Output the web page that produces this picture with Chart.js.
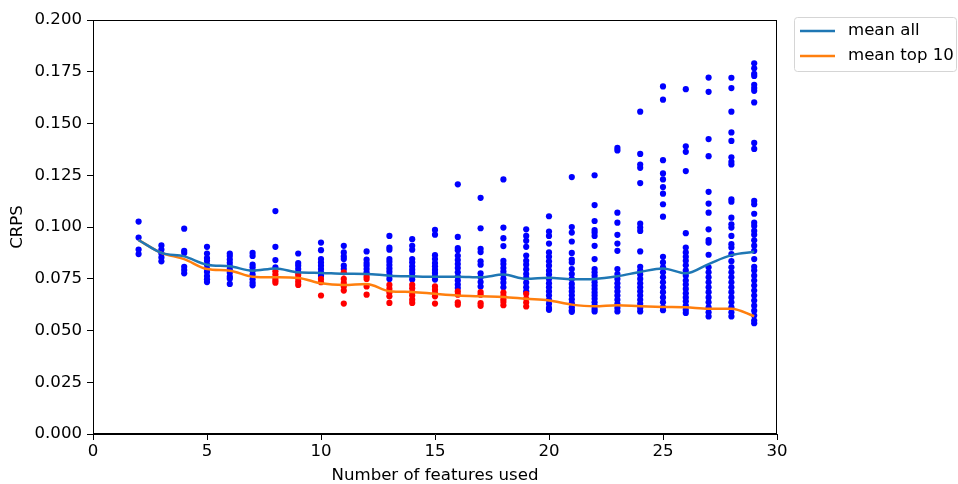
<!DOCTYPE html>
<html>
<head>
<meta charset="utf-8">
<script src="https://cdn.jsdelivr.net/npm/chart.js@4/dist/chart.umd.min.js"></script>
<style>
html,body{margin:0;padding:0;background:#fff;}
canvas{display:block;}
</style>
</head>
<body>
<canvas id="c" width="958" height="484"></canvas>
<script>
// ---- data ----
const featureCounts = [2,3,4,5,6,7,8,9,10,11,12,13,14,15,16,17,18,19,20,21,22,23,24,25,26,27,28,29];

const meanAll = [0.0937,0.0875,0.0858,0.0818,0.0810,0.0789,0.0800,0.0781,0.0778,0.0774,0.0773,0.0765,0.0762,0.0760,0.0760,0.0757,0.0770,0.0750,0.0755,0.0747,0.0749,0.0762,0.0783,0.0800,0.0776,0.0821,0.0864,0.0880];
const meanTop10 = [0.0937,0.0875,0.0845,0.0797,0.0789,0.0760,0.0757,0.0754,0.0728,0.0720,0.0725,0.0690,0.0686,0.0677,0.0669,0.0665,0.0662,0.0653,0.0645,0.0625,0.0617,0.0622,0.0617,0.0614,0.0612,0.0605,0.0605,0.0569];

// all runs (blue), one list per feature count
const allRuns = [
  [0.1026,0.0949,0.0891,0.0869],
  [0.0911,0.0891,0.0872,0.0853,0.0834],
  [0.0992,0.0885,0.0875,0.0808,0.0792,0.0776],
  [0.0904,0.0872,0.0850,0.0837,0.0818,0.0798,0.0783,0.0763,0.0747,0.0734],
  [0.0872,0.0860,0.0843,0.0827,0.0811,0.0795,0.0779,0.0760,0.0750,0.0725],
  [0.0875,0.0860,0.0818,0.0805,0.0789,0.0770,0.0747,0.0731,0.0718],
  [0.1077,0.0904,0.0840,0.0805],
  [0.0872,0.0826,0.0813,0.0797,0.0781],
  [0.0925,0.0888,0.0845,0.0829,0.0813,0.0797,0.0781,0.0765],
  [0.0909,0.0877,0.0858,0.0845,0.0813,0.0797],
  [0.0882,0.0842,0.0826,0.0813,0.0797,0.0781],
  [0.0957,0.0901,0.0890,0.0845,0.0832,0.0816,0.0800,0.0784,0.0768,0.0749],
  [0.0941,0.0909,0.0890,0.0845,0.0829,0.0810,0.0794,0.0778,0.0761,0.0746],
  [0.0986,0.0963,0.0864,0.0845,0.0826,0.0810,0.0794,0.0778,0.0761,0.0746],
  [0.1206,0.0952,0.0898,0.0888,0.0861,0.0840,0.0821,0.0802,0.0781,0.0760,0.0741,0.0722,0.0705],
  [0.1141,0.0994,0.0895,0.0879,0.0834,0.0818,0.0776,0.0757,0.0734,0.0712],
  [0.1230,0.0997,0.0946,0.0908,0.0837,0.0821,0.0802,0.0785,0.0770,0.0750,0.0731,0.0709],
  [0.0989,0.0957,0.0933,0.0904,0.0862,0.0837,0.0818,0.0795,0.0773,0.0754,0.0731,0.0709,0.0689],
  [0.1052,0.0978,0.0957,0.0920,0.0877,0.0856,0.0834,0.0813,0.0789,0.0770,0.0749,0.0728,0.0709,0.0689,0.0669,0.0648,0.0629,0.0609,0.0600],
  [0.1241,0.1000,0.0973,0.0930,0.0875,0.0843,0.0829,0.0797,0.0773,0.0749,0.0725,0.0706,0.0689,0.0670,0.0651,0.0632,0.0612,0.0598,0.0590],
  [0.1250,0.1106,0.1029,0.0985,0.0973,0.0957,0.0909,0.0845,0.0797,0.0781,0.0765,0.0749,0.0733,0.0717,0.0701,0.0684,0.0669,0.0653,0.0636,0.0620,0.0604,0.0592],
  [0.1382,0.1370,0.1069,0.1021,0.0962,0.0920,0.0885,0.0797,0.0773,0.0749,0.0728,0.0709,0.0689,0.0669,0.0648,0.0629,0.0609,0.0592],
  [0.1557,0.1353,0.1302,0.1286,0.1212,0.1016,0.0997,0.0981,0.0882,0.0808,0.0789,0.0770,0.0749,0.0728,0.0709,0.0689,0.0669,0.0648,0.0629,0.0609,0.0592],
  [0.1679,0.1615,0.1323,0.1259,0.1230,0.1193,0.1161,0.1110,0.1050,0.0856,0.0829,0.0805,0.0781,0.0757,0.0733,0.0709,0.0685,0.0660,0.0636,0.0612,0.0598],
  [0.1666,0.1390,0.1363,0.1270,0.0970,0.0901,0.0877,0.0856,0.0837,0.0815,0.0790,0.0765,0.0741,0.0722,0.0701,0.0680,0.0660,0.0641,0.0620,0.0600,0.0585],
  [0.1722,0.1653,0.1425,0.1342,0.1170,0.1113,0.1069,0.0989,0.0937,0.0925,0.0866,0.0805,0.0781,0.0757,0.0733,0.0709,0.0685,0.0660,0.0636,0.0612,0.0588,0.0568],
  [0.1721,0.1671,0.1557,0.1457,0.1416,0.1337,0.1315,0.1302,0.1134,0.1122,0.1045,0.1013,0.0997,0.0957,0.0917,0.0901,0.0869,0.0835,0.0805,0.0781,0.0757,0.0733,0.0709,0.0685,0.0660,0.0636,0.0612,0.0588,0.0568],
  [0.1791,0.1767,0.1740,0.1730,0.1687,0.1671,0.1658,0.1602,0.1406,0.1377,0.1126,0.1110,0.1064,0.1021,0.1005,0.0981,0.0962,0.0936,0.0910,0.0885,0.0845,0.0808,0.0790,0.0765,0.0741,0.0717,0.0693,0.0669,0.0645,0.0620,0.0596,0.0572,0.0548,0.0535]
];

// best runs (red), one list per feature count
const topRuns = [
  [],[],[],[],[],[],
  [0.0786,0.0770,0.0754,0.0741,0.0731],
  [0.0768,0.0752,0.0736,0.0720],
  [0.0749,0.0733,0.0669],
  [0.0781,0.0749,0.0730,0.0713,0.0693,0.0630],
  [0.0761,0.0749,0.0713,0.0673],
  [0.0720,0.0701,0.0684,0.0665,0.0633],
  [0.0720,0.0704,0.0684,0.0669,0.0649,0.0633],
  [0.0713,0.0697,0.0681,0.0665,0.0630],
  [0.0689,0.0673,0.0636,0.0625],
  [0.0686,0.0673,0.0632,0.0619],
  [0.0683,0.0667,0.0651,0.0638,0.0622],
  [0.0677,0.0654,0.0635,0.0616],
  [],[],[],[],[],[],[],[],[],[]
];

const xTickStep = 5;
const yTickStep = 0.025;

// ---- build datasets ----
function toPoints(lists){
  const pts = [];
  lists.forEach((vals, i) => vals.forEach(v => pts.push({x: featureCounts[i], y: v})));
  return pts;
}
const linePts = arr => arr.map((v,i) => ({x: featureCounts[i], y: v}));

const FONT = '"DejaVu Sans", "Liberation Sans", sans-serif';
const FS = 16.6;

const framePlugin = {
  id: 'frame',
  afterDraw(chart){
    const {ctx, chartArea: a} = chart;
    ctx.save();
    ctx.strokeStyle = '#000';
    ctx.lineWidth = 1;
    ctx.strokeRect(Math.round(a.left)+0.5, Math.round(a.top)+0.5, Math.round(a.right-a.left)-1, Math.round(a.bottom-a.top)-1);
    // legend
    const lx = 794.5, ly = 17.5, lw = 162, lh = 54;
    ctx.beginPath();
    ctx.roundRect(lx, ly, lw, lh, 3);
    ctx.fillStyle = 'rgba(255,255,255,0.8)';
    ctx.fill();
    ctx.strokeStyle = '#d5d5d5';
    ctx.stroke();
    const items = [['mean all', '#1f77b4', 31], ['mean top 10', '#ff7f0e', 56]];
    ctx.font = FS + 'px ' + FONT;
    ctx.textBaseline = 'middle';
    ctx.textAlign = 'left';
    items.forEach(([label, col, y]) => {
      ctx.beginPath();
      ctx.strokeStyle = col;
      ctx.lineWidth = 2.4;
      ctx.moveTo(800, y);
      ctx.lineTo(835, y);
      ctx.stroke();
      ctx.fillStyle = '#000';
      ctx.fillText(label, 848, y);
    });
    ctx.restore();
  }
};

new Chart(document.getElementById('c'), {
  type: 'scatter',
  data: {
    datasets: [
      { label: 'mean all', data: linePts(meanAll), showLine: true, borderColor: '#1f77b4', backgroundColor: '#1f77b4', borderWidth: 2.5, pointRadius: 0, cubicInterpolationMode: 'monotone', order: 0 },
      { label: 'mean top 10', data: linePts(meanTop10), showLine: true, borderColor: '#ff7f0e', backgroundColor: '#ff7f0e', borderWidth: 2.5, pointRadius: 0, cubicInterpolationMode: 'monotone', order: 1 },
      { label: 'top', data: toPoints(topRuns), backgroundColor: '#ff0000', borderWidth: 0, pointRadius: 3.1, order: 2 },
      { label: 'all', data: toPoints(allRuns), backgroundColor: '#0000ff', borderWidth: 0, pointRadius: 3.1, order: 3 }
    ]
  },
  options: {
    responsive: false,
    animation: false,
    events: [],
    layout: { padding: { left: 0, top: 20, right: 181, bottom: 0 } },
    plugins: { legend: { display: false }, tooltip: { enabled: false } },
    scales: {
      x: {
        type: 'linear', min: 0, max: 30,
        afterFit(s){ s.height = 50; },
        ticks: { stepSize: xTickStep, color: '#000', font: { family: FONT, size: FS }, padding: 2, maxRotation: 0 },
        grid: { display: true, drawOnChartArea: false, drawTicks: true, tickLength: 6, color: '#000' },
        border: { display: true, color: '#000', width: 1 },
        title: { display: true, text: 'Number of features used', color: '#000', font: { family: FONT, size: FS, lineHeight: 1.0 }, padding: { top: 0, bottom: 0 } }
      },
      y: {
        type: 'linear', min: 0, max: 0.2,
        afterFit(s){ s.width = 93; },
        ticks: { stepSize: yTickStep, color: '#000', font: { family: FONT, size: FS }, padding: 5, callback: v => Number(v).toFixed(3) },
        grid: { display: true, drawOnChartArea: false, drawTicks: true, tickLength: 6, color: '#000' },
        border: { display: true, color: '#000', width: 1 },
        title: { display: true, text: 'CRPS', color: '#000', font: { family: FONT, size: FS }, padding: { top: 8, bottom: 8 } }
      }
    }
  },
  plugins: [framePlugin]
});
</script>
</body>
</html>
